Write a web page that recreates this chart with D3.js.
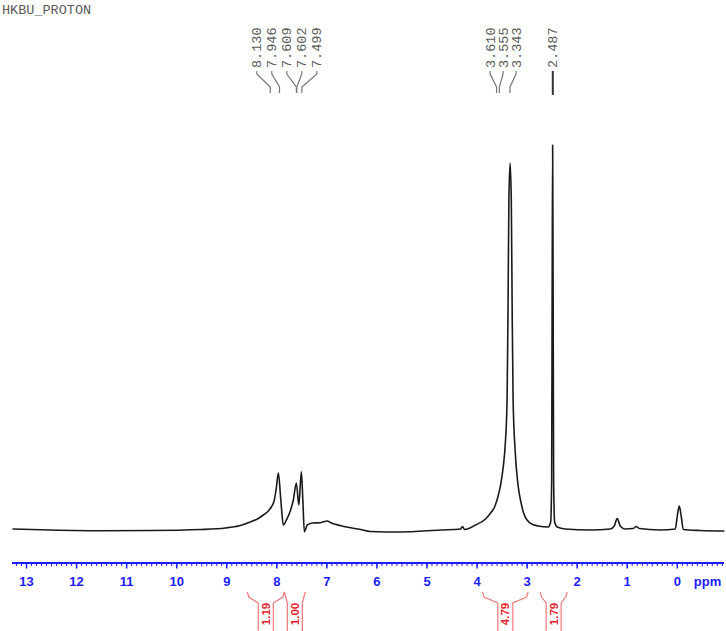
<!DOCTYPE html>
<html><head><meta charset="utf-8">
<script src="https://cdn.jsdelivr.net/npm/d3@7"></script>
<style>body{margin:0;background:#fff}svg{display:block}</style>
</head><body>
<svg id="c" width="726" height="631"></svg>
<script>
const title = "HKBU_PROTON";
const ppmValues = [13.28,12.52,11.52,10.52,9.52,9.03,8.73,8.53,8.37,8.27,8.17,8.11,8.05,8.01,7.97,7.92,7.87,7.81,7.73,7.67,7.61,7.56,7.51,7.48,7.45,7.39,7.29,7.13,6.99,6.93,6.63,6.33,6.13,5.53,4.73,4.33,4.29,4.25,4.03,3.83,3.73,3.65,3.59,3.53,3.48,3.44,3.40,3.38,3.364,3.34,3.316,3.30,3.28,3.24,3.18,3.12,3.06,2.94,2.78,2.58,2.53,2.51,2.50,2.49,2.48,2.47,2.45,2.40,2.24,1.74,1.34,1.26,1.20,1.14,1.04,0.88,0.82,0.76,0.34,0.04,0.0,-0.04,-0.08,-0.12,-0.46,-0.94];
const intensityValues = [0.78,0.52,0.34,0.39,0.65,1.03,1.68,2.58,3.49,4.39,5.43,6.46,8.27,11.37,15.25,8.27,1.81,3.10,5.43,8.27,12.66,6.98,15.58,8.27,0.08,1.81,2.33,2.40,2.84,2.45,1.37,0.65,0.13,0,0.52,0.78,1.42,0.65,1.81,3.36,4.91,6.46,8.79,12.14,16.5,22.0,34.1,59.9,85.8,95.3,85.8,59.9,34.1,21.2,12.0,7.5,4.5,2.3,1.55,1.29,2.58,12.9,59.9,100,59.9,12.9,2.58,1.29,0.78,0.52,0.78,1.55,3.49,1.55,0.78,0.9,1.42,0.9,0.52,0.78,4.13,6.72,3.88,0.65,0.39,0.26];
const peakLabels = ["8.130","7.946","7.609","7.602","7.499","3.610","3.555","3.343","2.487"];
const peakPpm = [8.130,7.946,7.609,7.602,7.499,3.610,3.555,3.343,2.487];
const peakGroup = [0,0,0,0,0,1,1,1,2];
const groupCenterPpm = [7.80,3.48,2.487];
const integralFrom = [8.59,7.85,3.89,2.74];
const integralTo = [7.85,7.43,2.98,2.20];
const integralValues = ["1.19","1.00","4.79","1.79"];
const tickValues = [13,12,11,10,9,8,7,6,5,4,3,2,1,0];
const tickLabels = ["13","12","11","10","9","8","7","6","5","4","3","2","1","0"];
const axisUnit = "ppm";

const svg = d3.select("#c");
const W = 726, H = 631;
const x = d3.scaleLinear().domain([13.29, -0.933]).range([12, 724]);
const y = d3.scaleLinear().domain([0, 100]).range([532, 145]);

const AXIS_BLUE = "#1c1cff";
const RED_TXT = "#e8202a";
const RED_LINE = "#f07a7a";

// title
svg.append("text").attr("x", 2).attr("y", 14)
  .attr("font-family", "Liberation Mono, Courier New, monospace")
  .attr("font-size", 13.5).attr("fill", "#5a5a5a").text(title);

// spectrum
const pts = ppmValues.map((p, i) => [p, intensityValues[i]]);
svg.append("path").datum(pts)
  .attr("fill", "none").attr("stroke", "#1a1a1a").attr("stroke-width", 1.6)
  .attr("stroke-linejoin", "round")
  .attr("d", d3.line().x(d => x(d[0])).y(d => y(d[1])).curve(d3.curveMonotoneX));

// peak labels
const groupCount = [0,0,0], groupIdx = [];
peakGroup.forEach((g) => { groupIdx.push(groupCount[g]); groupCount[g]++; });
const spacing = [15, 13, 0];
const lbl = svg.append("g");
peakLabels.forEach((t, i) => {
  const g = peakGroup[i];
  const lx = x(groupCenterPpm[g]) + (groupIdx[i] - (groupCount[g] - 1) / 2) * spacing[g];
  const px = x(peakPpm[i]);
  lbl.append("text")
    .attr("transform", `translate(${lx + 4.5},68) rotate(-90)`)
    .attr("font-family", "Liberation Mono, Courier New, monospace")
    .attr("font-size", 13.5).attr("fill", "#5a5a5a").text(t);
  lbl.append("path")
    .attr("d", g === 2 ? `M${px},71 L${px},95` : `M${lx},71 L${lx},74 L${px},87 L${px},93`)
    .attr("fill", "none")
    .attr("stroke", g === 2 ? "#333" : "#777")
    .attr("stroke-width", g === 2 ? 2 : 1.2);
});

// axis
const axisY = 563;
const ax = svg.append("g");
ax.append("line").attr("x1", 12).attr("x2", 724).attr("y1", axisY).attr("y2", axisY)
  .attr("stroke", AXIS_BLUE).attr("stroke-width", 2);
const minor = d3.range(-9, 133).map(v => v / 10);
ax.selectAll("line.minor").data(minor).join("line")
  .attr("x1", d => x(d)).attr("x2", d => x(d))
  .attr("y1", axisY).attr("y2", d => axisY + (Math.abs(d * 10 % 10) === 5 ? 3.5 : 3))
  .attr("stroke", AXIS_BLUE).attr("stroke-width", 1);
ax.selectAll("line.major").data(tickValues).join("line")
  .attr("x1", d => x(d)).attr("x2", d => x(d))
  .attr("y1", axisY).attr("y2", axisY + 5.5)
  .attr("stroke", AXIS_BLUE).attr("stroke-width", 1.5);
ax.selectAll("text.tl").data(tickValues).join("text")
  .attr("x", d => x(d)).attr("y", 586).attr("text-anchor", "middle")
  .attr("font-family", "Liberation Sans, Arial, sans-serif").attr("font-weight", "bold")
  .attr("font-size", 13).attr("fill", AXIS_BLUE)
  .text((d, i) => tickLabels[i]);
ax.append("text").attr("x", x(-0.33)).attr("y", 586)
  .attr("font-family", "Liberation Sans, Arial, sans-serif").attr("font-weight", "bold")
  .attr("font-size", 13).attr("fill", AXIS_BLUE).text(axisUnit);

// integrals
const ig = svg.append("g");
integralValues.forEach((v, i) => {
  const x1 = x(integralFrom[i]), x2 = x(integralTo[i]);
  const mid = (x1 + x2) / 2;
  const half = Math.min(7.5, (x2 - x1) / 2 - 3);
  const s1 = mid - half, s2 = mid + half;
  ig.append("path")
    .attr("d", `M${x1},592 L${x1 + 1.5},597 L${s1},603 L${s1},${H + 2} M${x2},592 L${x2 - 1.5},597 L${s2},603 L${s2},${H + 2}`)
    .attr("fill", "none").attr("stroke", RED_LINE).attr("stroke-width", 1.2);
  ig.append("text")
    .attr("transform", `translate(${mid + 4},614) rotate(-90)`)
    .attr("text-anchor", "middle")
    .attr("font-family", "Liberation Sans, Arial, sans-serif").attr("font-weight", "bold")
    .attr("font-size", 11.5).attr("fill", RED_TXT).text(v);
});
</script>
</body></html>
